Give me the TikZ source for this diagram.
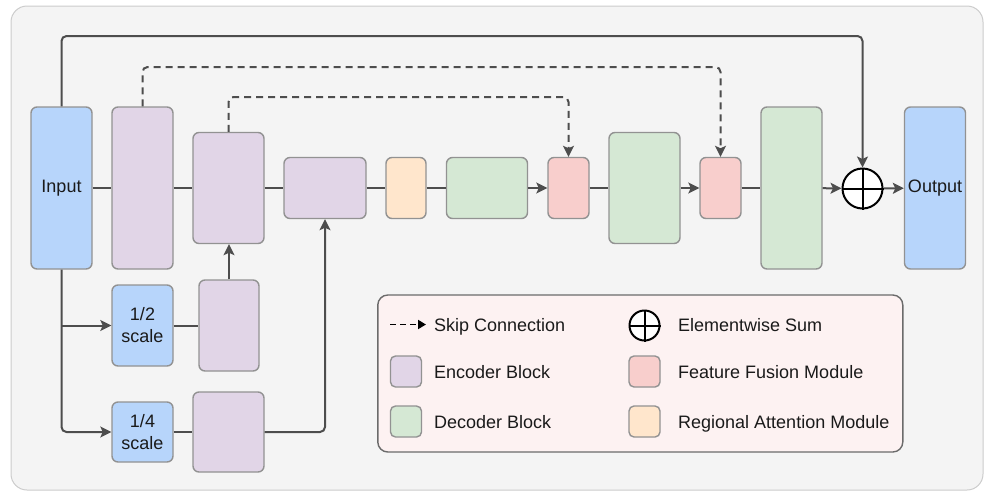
\documentclass[tikz,border=0pt]{standalone}
\usepackage{fontspec}
\setmainfont{Liberation Sans}
\usetikzlibrary{arrows.meta}
\definecolor{bgfill}{HTML}{F4F4F4}
\definecolor{bgedge}{HTML}{CCCCCC}
\definecolor{edgegray}{HTML}{929292}
\definecolor{linegray}{HTML}{4D4D4D}
\definecolor{txt}{HTML}{1A1A1A}
\definecolor{iofill}{HTML}{B7D5FB}
\definecolor{encfill}{HTML}{E1D5E7}
\definecolor{decfill}{HTML}{D5E8D4}
\definecolor{ffmfill}{HTML}{F8CECC}
\definecolor{ramfill}{HTML}{FFE6CC}
\definecolor{legendfill}{HTML}{FDF2F2}
\definecolor{legendedge}{HTML}{6B6B6B}
\begin{document}
\begin{tikzpicture}
  [x=1pt, y=-1pt,
  every node/.style={font=\fontsize{18}{22}\selectfont, text=txt},
  blk/.style={draw=edgegray, line width=1.4pt, rounded corners=6pt, inner sep=0pt, align=center},
  io/.style={blk, fill=iofill},
  enc/.style={blk, fill=encfill},
  dec/.style={blk, fill=decfill},
  ffm/.style={blk, fill=ffmfill},
  ram/.style={blk, fill=ramfill},
  link/.style={draw=linegray, line width=2pt, rounded corners=5pt},
  arr/.style={link, -{Stealth[length=11pt, width=11pt, inset=2.5pt]}},
  skiplink/.style={arr, dash pattern=on 7pt off 5pt},
  sumnode/.style={circle, draw=black, fill=white, line width=2pt, inner sep=0pt},
  keytxt/.style={anchor=base west, inner sep=0pt}]
  \useasboundingbox (0,0) rectangle (984,491);
  \draw[fill=bgfill, draw=bgedge, line width=1pt, rounded corners=16pt] (11,6) rectangle (983,490);

  % main path
  \node[io, minimum width=61, minimum height=162] (in) at (61.5,188) {Input};
  \node[enc, minimum width=61, minimum height=162] (e1) at (142.5,188) {};
  \node[enc, minimum width=71, minimum height=111] (e2) at (228.5,188) {};
  \node[enc, minimum width=82, minimum height=61] (e3) at (325,188) {};
  \node[ram, minimum width=40, minimum height=61] (ra) at (406,188) {};
  \node[dec, minimum width=81, minimum height=61] (d1) at (487,188) {};
  \node[ffm, minimum width=41, minimum height=61] (f1) at (568.5,188) {};
  \node[dec, minimum width=71, minimum height=111] (d2) at (644.5,188) {};
  \node[ffm, minimum width=41, minimum height=61] (f2) at (720.5,188) {};
  \node[dec, minimum width=61, minimum height=162] (d3) at (791.5,188) {};
  \node[sumnode, minimum size=40] (sum) at (862.5,188.5) {};
  \node[io, minimum width=61, minimum height=162] (out) at (935,188) {Output};

  % scaled inputs
  \node[io, minimum width=61, minimum height=81] (half) at (142.5,325.5) {1/2\\scale};
  \node[enc, minimum width=60, minimum height=91] (e4) at (229,325.5) {};
  \node[io, minimum width=61, minimum height=60] (quarter) at (142.5,432) {1/4\\scale};
  \node[enc, minimum width=71, minimum height=80] (e5) at (228.5,432) {};

  \foreach \a/\b in {in/e1, e1/e2, e2/e3, e3/ra, ra/d1, f1/d2, f2/d3, half/e4, quarter/e5}
    \draw[link] (\a) -- (\b);
  \foreach \a/\b in {d1/f1, d2/f2, d3/sum, sum/out}
    \draw[arr] (\a) -- (\b);
  \draw[black, line width=2pt] (sum.north) -- (sum.south) (sum.west) -- (sum.east);

  \draw[arr] (in.north) -- (in.north |- 0,36) -| (sum.north);
  \draw[skiplink] (e1.north) -- (e1.north |- 0,67) -| (f2.north);
  \draw[skiplink] (e2.north) -- (e2.north |- 0,97) -| (f1.north);

  \draw[arr] (in.south) |- (quarter.west);
  \draw[arr, rounded corners=0pt] (in.south |- half.west) -- (half.west);
  \draw[arr] (e4.north) -- (e4.north |- e2.south);
  \draw[arr] (e5.east) -| (e3.south);

  % legend
  \node[draw=legendedge, fill=legendfill, line width=1.4pt, rounded corners=10pt,
    minimum width=525, minimum height=157] (legend) at (640.3,373.5) {};
  \coordinate (skipfrom) at (390,324.5);
  \node[keytxt] (skiptxt) at (434,331) {Skip Connection};
  \draw[black, line width=1.8pt, dash pattern=on 5.5pt off 4.5pt, -{Triangle[length=8pt, width=9pt]},
    shorten >=8pt] (skipfrom) -- (skipfrom -| skiptxt.west);
  \node[blk, rounded corners=5pt, fill=encfill, minimum size=31] (keyenc) at (406,371.5) {};
  \node[keytxt] at (434,378) {Encoder Block};
  \node[blk, rounded corners=5pt, fill=decfill, minimum size=31] (keydec) at (406,421.5) {};
  \node[keytxt] at (434,428) {Decoder Block};
  \node[sumnode, minimum size=30] (keysum) at (644.5,325.5) {};
  \draw[black, line width=2pt] (keysum.north) -- (keysum.south) (keysum.west) -- (keysum.east);
  \node[keytxt] at (678,331) {Elementwise Sum};
  \node[blk, rounded corners=5pt, fill=ffmfill, minimum size=31] (keyffm) at (644.5,371.5) {};
  \node[keytxt] at (678,378) {Feature Fusion Module};
  \node[blk, rounded corners=5pt, fill=ramfill, minimum size=31] (keyram) at (644.5,421.5) {};
  \node[keytxt] at (678,428) {Regional Attention Module};
\end{tikzpicture}
\end{document}
